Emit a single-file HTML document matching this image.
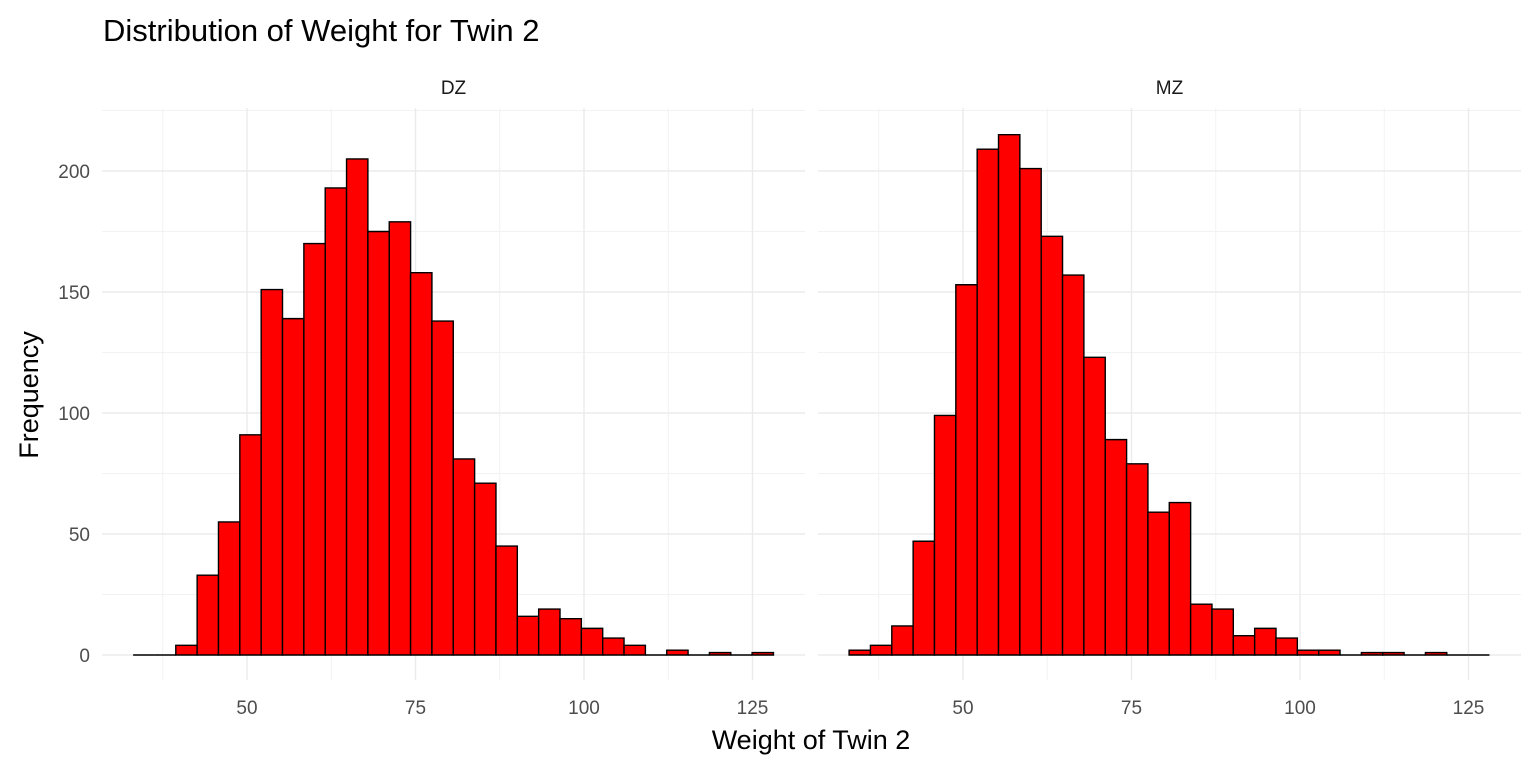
<!DOCTYPE html>
<html><head><meta charset="utf-8"><style>
body{margin:0;background:#fff;}
svg text{font-family:"Liberation Sans",Arial,sans-serif;}
</style></head><body>
<svg id="chart" width="1536" height="768" xmlns="http://www.w3.org/2000/svg">
<text x="103" y="41" font-size="31" fill="#000">Distribution of Weight for Twin 2</text>
<text x="811" y="749" font-size="27" text-anchor="middle" fill="#000">Weight of Twin 2</text>
<text transform="translate(38,395) rotate(-90)" font-size="27" text-anchor="middle" fill="#000">Frequency</text>
<g id="plot"></g>
</svg>
<script>
const panels = ["DZ", "MZ"];
const binStart = 33.1;
const binWidth = 3.167;
const dzCounts = [0,0,4,33,55,91,151,139,170,193,205,175,179,158,138,81,71,45,16,19,15,11,7,4,0,2,0,1,0,1];
const mzCounts = [2,4,12,47,99,153,209,215,201,173,157,123,89,79,59,63,21,19,8,11,7,2,2,0,1,1,0,1,0,0];
const yTicks = [0,50,100,150,200];
const xTicks = [50,75,100,125];

const NS = "http://www.w3.org/2000/svg";
const g = document.getElementById("plot");
function el(tag, attrs, parent){const e=document.createElementNS(NS,tag);for(const k in attrs)e.setAttribute(k,attrs[k]);(parent||g).appendChild(e);return e;}
function yScale(v){return 655 - v*2.42;}
const panelX0 = [102, 818];
const panelW = 703;
function xScale(p, v){return panelX0[p] + 145 + (v-50)*6.74;}
const plotTop = 108, plotBottom = 680;

[dzCounts, mzCounts].forEach((counts, p) => {
  const pg = el("g", {});
  
  
  const x0 = panelX0[p], x1 = x0 + panelW;
  for (let i=0;i<yTicks.length;i++){
    const mv = yTicks[i]+25;
    if (yScale(mv) > plotTop) {
      const l = el("line",{x1:x0,x2:x1,y1:yScale(mv),y2:yScale(mv),stroke:"#f2f2f2","stroke-width":1},pg);
      
      
    }
  }
  const minors=[xTicks[0]-12.5].concat(xTicks.map(t=>t+12.5));
  minors.forEach(mv=>{
    const x=xScale(p,mv);
    if(x>x0&&x<x1){
      const l=el("line",{x1:x,x2:x,y1:plotTop,y2:plotBottom,stroke:"#f2f2f2","stroke-width":1},pg);
      
      
    }
  });
  yTicks.forEach(t=>{
    const l=el("line",{x1:x0,x2:x1,y1:yScale(t),y2:yScale(t),stroke:"#ebebeb","stroke-width":1.4},pg);
    
    
    if(p===0){
      const tx=el("text",{x:90,y:yScale(t)+7,"font-size":19,"text-anchor":"end",fill:"#4d4d4d"},pg);
      tx.textContent=t;
      
      
    }
  });
  xTicks.forEach(t=>{
    const x=xScale(p,t);
    const l=el("line",{x1:x,x2:x,y1:plotTop,y2:plotBottom,stroke:"#ebebeb","stroke-width":1.4},pg);
    
    
    const tx=el("text",{x:x,y:714,"font-size":19,"text-anchor":"middle",fill:"#4d4d4d"},pg);
    tx.textContent=t;
    
    
  });
  const st=el("text",{x:x0+panelW/2,y:94,"font-size":19,"text-anchor":"middle",fill:"#1a1a1a"},pg);
  st.textContent=panels[p];
  
  
  counts.forEach((c,i)=>{
    const a=xScale(p,binStart+i*binWidth), b=xScale(p,binStart+(i+1)*binWidth);
    const y0=yScale(0), y1=yScale(c);
    const d = c>0 ? `M${a},${y0}V${y1}H${b}V${y0}Z` : `M${a},${y0}H${b}`;
    const r=el("path",{d:d,fill:"#ff0000",stroke:"#000","stroke-width":1.4},pg);
    
    
  });
});
</script>
</body></html>
